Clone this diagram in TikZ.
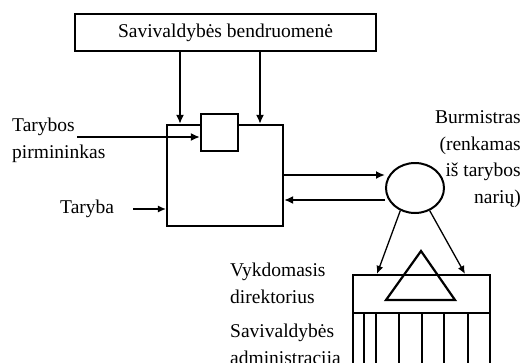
\documentclass[tikz,border=0pt]{standalone}
\usepackage{fontspec}
\setmainfont{Liberation Serif}
\usetikzlibrary{arrows.meta,shapes.geometric}
\begin{document}
\begin{tikzpicture}[x=1pt,y=-1pt,
  box/.style={draw,line width=2.2pt,inner sep=0pt,fill=white},
  arr/.style={line width=2.2pt,-{Latex[length=9pt,width=8pt]}},
  thinarr/.style={line width=1.3pt,-{Latex[length=8pt,width=7pt]}},
  lbl/.style={font=\fontsize{19.5}{26.5}\selectfont,inner sep=0pt}]
\useasboundingbox (0,0) rectangle (525,362);
\clip (0,0) rectangle (525,362);

% community
\node[box,lbl,minimum width=301pt,minimum height=37pt] (comm) at (225.5,32.5) {Savivaldybės bendruomenė};

% council with chairman
\node[box,minimum width=116pt,minimum height=101pt] (council) at (225,175.5) {};
\node[box,minimum width=37pt,minimum height=37pt] (chair) at (219.5,132.5) {};

% mayor
\node[draw,ellipse,line width=2pt,inner sep=0pt,minimum width=58pt,minimum height=50pt] (mayor) at (415,188) {};

% administration
\node[box,minimum width=137pt,minimum height=38pt] (admin) at (421.5,294) {};
\foreach \x in {353,364,376,399,422,444,468,490}
  \draw[line width=2.2pt] (\x,313) -- (\x,372);
\draw[line width=2.2pt] (421,251) -- (386,300) -- (455,300) -- cycle;

% labels (base anchor sits on the last line)
\node[lbl,anchor=base west,align=left] (lchair) at (12,158) {Tarybos\\pirmininkas};
\node[lbl,anchor=base west] (lcouncil) at (60,213) {Taryba};
\node[lbl,anchor=base east,align=right] (lmayor) at (521,203) {Burmistras\\(renkamas\\iš tarybos\\narių)};
\node[lbl,anchor=base west,align=left] (ldir) at (230,303) {Vykdomasis\\direktorius};
\node[lbl,anchor=base west,align=left] (ladm) at (230,364) {Savivaldybės\\administracija};

% connectors
\draw[arr] (comm.south -| 180,0) -- (council.north -| 180,0);
\draw[arr] (comm.south -| 260,0) -- (council.north -| 260,0);
\coordinate (chairfrom) at (77,137);
\draw[arr] (chairfrom) -- (chair.west |- chairfrom);
\coordinate (councilfrom) at (133,209);
\draw[thinarr] (councilfrom) -- (council.west |- councilfrom);
\draw[arr] (council.east |- 0,175) -- (mayor.west |- 0,175);
\draw[arr] (mayor.west |- 0,200) -- (council.east |- 0,200);
\draw[thinarr] (mayor.237) -- (377,0 |- admin.north);
\draw[thinarr] (mayor.-57) -- (465,0 |- admin.north);
\end{tikzpicture}
\end{document}
